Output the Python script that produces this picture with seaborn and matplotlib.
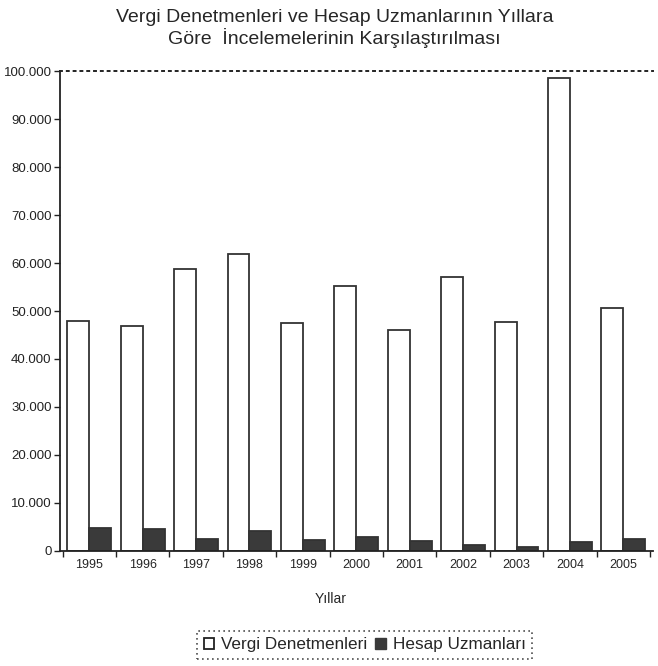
import matplotlib
matplotlib.use("Agg")
import matplotlib.pyplot as plt
import seaborn as sns
import pandas as pd
from matplotlib.patches import Patch
from matplotlib.ticker import FuncFormatter, FixedLocator

years = ["1995", "1996", "1997", "1998", "1999", "2000", "2001", "2002", "2003", "2004", "2005"]
vergi = [47900, 46900, 58700, 61900, 47500, 55200, 46000, 57000, 47700, 98500, 50600]
hesap = [4800, 4500, 2500, 4200, 2300, 2900, 2100, 1300, 700, 1900, 2500]
series = ["Vergi Denetmenleri", "Hesap Uzmanları"]

df = pd.DataFrame({
    "Yıl": years * 2,
    "Değer": vergi + hesap,
    "Seri": [series[0]] * len(years) + [series[1]] * len(years),
})

sns.set_style("white")
plt.rcParams["font.family"] = ["Liberation Sans", "DejaVu Sans"]

fig = plt.figure(figsize=(6.58, 6.66), dpi=100)
ax = fig.add_axes([0.091, 0.173, 0.901, 0.720])

palette = {series[0]: "white", series[1]: "#3a3a3a"}
sns.barplot(data=df, x="Yıl", y="Değer", hue="Seri", order=years, hue_order=series,
            palette=palette, width=0.82, edgecolor="#333333", linewidth=1.3,
            legend=False, ax=ax)

ax.set_ylim(0, 100000)
ax.set_xlim(-0.55, len(years) - 0.45)
ax.set_yticks(range(0, 100001, 10000))
ax.yaxis.set_major_formatter(FuncFormatter(lambda v, p: "0" if v == 0 else f"{int(v):,}".replace(",", ".")))
ax.tick_params(axis="y", left=True, direction="out", length=4, width=1, labelsize=9.5,
               colors="#222222", pad=2)
ax.tick_params(axis="x", which="major", bottom=False, length=0, labelsize=9, pad=6)
ax.xaxis.set_minor_locator(FixedLocator([i - 0.5 for i in range(len(years) + 1)]))
ax.tick_params(axis="x", which="minor", bottom=True, direction="out", length=4, width=1,
               color="#222222")

for s in ["left", "bottom"]:
    ax.spines[s].set_color("#222222")
    ax.spines[s].set_linewidth(1.3)
ax.spines["right"].set_visible(False)
ax.spines["top"].set_linestyle((0, (1, 2.5)))
ax.spines["top"].set_linewidth(1.4)
ax.spines["top"].set_color("#222222")

ax.set_ylabel("")
ax.set_xlabel("")
fig.text(0.502, 0.100, "Yıllar", ha="center", va="center", fontsize=10)

fig.text(0.508, 0.986, "Vergi Denetmenleri ve Hesap Uzmanlarının Yıllara\nGöre  İncelemelerinin Karşılaştırılması",
         ha="center", va="top", fontsize=14, linespacing=1.1)

handles = [Patch(facecolor="white", edgecolor="#222222", linewidth=1.3),
           Patch(facecolor="#3a3a3a", edgecolor="#3a3a3a")]
leg = fig.legend(handles, series, loc="center", bbox_to_anchor=(0.554, 0.032), ncol=2,
                 fontsize=12.3, frameon=True, handlelength=0.6, handleheight=0.6,
                 handletextpad=0.4, columnspacing=0.5, borderpad=0.38, fancybox=False)
frame = leg.get_frame()
frame.set_linestyle((0, (1, 2)))
frame.set_edgecolor("#222222")
frame.set_linewidth(1.2)

fig.savefig("out.png", dpi=100, facecolor="white")
